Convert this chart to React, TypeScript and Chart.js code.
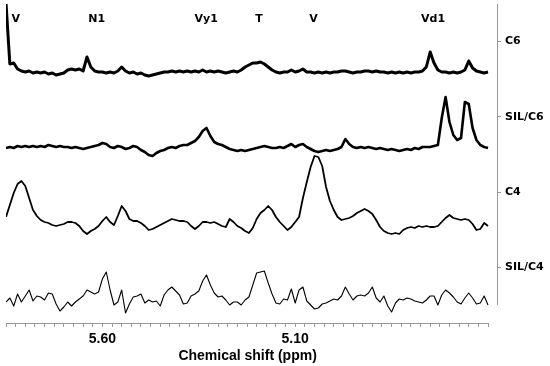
import React, { useEffect, useRef } from 'react';
import { Chart, registerables } from 'chart.js';

Chart.register(...registerables);

// Chemical shift grid (ppm), left to right
const shifts = [
  5.85, 5.84, 5.83, 5.82, 5.81, 5.80, 5.79, 5.78, 5.77, 5.76,
  5.75, 5.74, 5.73, 5.72, 5.71, 5.70, 5.69, 5.68, 5.67, 5.66,
  5.65, 5.64, 5.63, 5.62, 5.61, 5.60, 5.59, 5.58, 5.57, 5.56,
  5.55, 5.54, 5.53, 5.52, 5.51, 5.50, 5.49, 5.48, 5.47, 5.46,
  5.45, 5.44, 5.43, 5.42, 5.41, 5.40, 5.39, 5.38, 5.37, 5.36,
  5.35, 5.34, 5.33, 5.32, 5.31, 5.30, 5.29, 5.28, 5.27, 5.26,
  5.25, 5.24, 5.23, 5.22, 5.21, 5.20, 5.19, 5.18, 5.17, 5.16,
  5.15, 5.14, 5.13, 5.12, 5.11, 5.10, 5.09, 5.08, 5.07, 5.06,
  5.05, 5.04, 5.03, 5.02, 5.01, 5.00, 4.99, 4.98, 4.97, 4.96,
  4.95, 4.94, 4.93, 4.92, 4.91, 4.90, 4.89, 4.88, 4.87, 4.86,
  4.85, 4.84, 4.83, 4.82, 4.81, 4.80, 4.79, 4.78, 4.77, 4.76,
  4.75, 4.74, 4.73, 4.72, 4.71, 4.70, 4.69, 4.68, 4.67, 4.66,
  4.65, 4.64, 4.63, 4.62, 4.61, 4.60,
];

const sampleLabels = ['C6', 'SIL/C6', 'C4', 'SIL/C4'];
const traceOffsets = [232, 157, 80, 5];
const labelPositions = [263.4, 188.1, 112.9, 37.6];

const c6 = [
  70, 9, 10, 4, 2, 1, 2, 0, 1, 0,
  1, -1, 0, -2, -1, 0, 3, 4, 3, 4,
  2, 16, 6, 2, 1, 1, 0, 1, 0, 2,
  6, 2, 0, 1, -1, 0, -2, -3, -2, -1,
  0, 1, 1, 2, 1, 2, 1, 2, 1, 2,
  1, 3, 1, 2, 1, 2, 1, 0, 1, 2,
  1, 3, 6, 8, 10, 10, 11, 9, 6, 3,
  1, 0, 1, 1, 3, 1, 2, 4, 1, 1,
  0, 1, 0, 1, 0, 1, 1, 2, 2, 1,
  0, 1, 1, 2, 2, 1, 2, 1, 1, 0,
  1, 0, 1, 0, 1, 0, 1, 1, 2, 6,
  21, 10, 3, 1, 1, 0, 1, 0, 1, 3,
  12, 5, 2, 1, 0, 1,
];

const silC6 = [
  0, 1, 0, 2, 1, 2, 1, 2, 1, 2,
  1, 3, 2, 1, 2, 1, 1, 0, 1, 0,
  -1, 0, 1, 2, 3, 5, 4, 1, 0, 2,
  1, -1, 0, 2, 1, -2, -4, -7, -8, -5,
  -3, -2, 0, 1, 0, 2, 3, 3, 5, 7,
  11, 17, 20, 12, 6, 4, 3, 1, -1, -2,
  -3, -2, -3, -2, -1, 0, 1, 2, 1, 0,
  0, 1, 0, 2, 4, 1, 3, 4, 1, -1,
  -3, -4, -3, -2, -3, -2, -1, 1, 9, 4,
  1, 0, 1, 0, 1, 0, -1, 0, -1, -2,
  -1, -2, -3, -2, -1, -2, 0, -1, 1, 1,
  1, 2, 3, 30, 51, 26, 13, 8, 10, 46,
  44, 20, 8, 3, 1, 0,
];

const c4 = [
  8, 20, 32, 41, 44, 39, 27, 15, 9, 5,
  3, 2, 0, -1, 0, 1, 3, 3, 2, -1,
  -6, -9, -6, -4, -1, 4, 8, 3, 0, 9,
  19, 14, 6, 4, 4, 2, -1, -5, -4, -2,
  0, 2, 4, 6, 5, 4, 4, 3, -1, -4,
  -1, 3, 3, 2, 3, 1, -1, -2, 6, 3,
  -1, -3, -6, -8, -3, 6, 12, 15, 19, 15,
  8, 3, -1, -5, -2, 3, 8, 27, 43, 58,
  69, 68, 59, 38, 24, 15, 8, 5, 6, 7,
  9, 12, 14, 16, 14, 11, 5, -2, -6, -8,
  -9, -8, -9, -5, -3, -2, -3, -1, -2, -1,
  -2, -2, -1, 3, 7, 10, 7, 6, 5, 6,
  5, 1, -5, -4, 2, -1,
];

const silC4 = [
  -2, 2, -6, 6, -2, 4, 10, -1, 4, 3,
  0, 7, 6, -4, -11, -7, -2, -6, -2, 1,
  4, 10, 8, 6, 8, 21, 28, 10, -5, -2,
  10, -13, -4, 3, 4, 6, -3, 0, -2, -1,
  -6, 5, 10, 13, 9, 5, -4, -3, 4, 6,
  9, 19, 25, 15, 7, 3, 4, 0, -5, -2,
  -2, -5, 0, 3, 15, 27, 28, 29, 17, 6,
  -3, -4, 1, 0, 11, -3, 10, 13, -1, -5,
  -9, -8, -4, -3, -1, 1, 0, 4, 13, 6,
  0, 4, 5, 4, 7, 13, 2, -2, 4, -6,
  -12, -3, 1, 0, 2, 1, -1, -2, -3, 0,
  4, 4, -5, 5, 10, 7, 3, -2, -4, 2,
  7, 2, -4, -3, 4, -5,
];

const traces = [c6, silC6, c4, silC4];
const traceWidths = [3, 2.6, 1.8, 1.1];

const peakNames = ['V', 'N1', 'Vy1', 'T', 'V', 'Vd1'];
const peakShifts = [5.825, 5.615, 5.331, 5.194, 5.0525, 4.7426];
const peakLabelLevel = 285.5;

const majorTicks = [5.6, 5.1];
const axisStart = 5.85;
const axisEnd = 4.6;
const minorStep = 0.025;
const xTitle = 'Chemical shift (ppm)  ';

const axisColor = '#9a9a9a';

const decorPlugin = {
  id: 'decor',
  afterDraw(chart: any) {
    const { ctx, chartArea, scales } = chart;
    const x = scales.x;
    const y = scales.y;
    ctx.save();
    ctx.strokeStyle = axisColor;
    ctx.lineWidth = 1;
    // x axis line (only across the spectral range)
    const yb = Math.round(chartArea.bottom) + 0.5;
    ctx.beginPath();
    ctx.moveTo(x.getPixelForValue(axisStart), yb);
    ctx.lineTo(x.getPixelForValue(axisEnd) + 0.5, yb);
    ctx.stroke();
    // right-hand sample axis
    const xr = Math.round(chartArea.right) + 0.5;
    ctx.beginPath();
    ctx.moveTo(xr, y.getPixelForValue(0));
    ctx.lineTo(xr, y.getPixelForValue(301));
    ctx.stroke();
    // peak assignments
    ctx.fillStyle = '#000';
    ctx.font = 'bold 11px "DejaVu Sans"';
    ctx.textAlign = 'center';
    ctx.textBaseline = 'middle';
    peakNames.forEach((name, i) => {
      ctx.fillText(name, x.getPixelForValue(peakShifts[i]), y.getPixelForValue(peakLabelLevel));
    });
    ctx.restore();
  },
};

export default function App() {
  const canvasRef = useRef<HTMLCanvasElement | null>(null);

  useEffect(() => {
    const canvas = canvasRef.current;
    if (!canvas) return;
    const datasets = traces.map((vals, t) => ({
      label: sampleLabels[t],
      data: shifts.map((s, i) => ({ x: s, y: traceOffsets[t] + vals[i] })),
      borderColor: '#000',
      backgroundColor: '#000',
      borderWidth: traceWidths[t],
      borderJoinStyle: 'round' as const,
      pointRadius: 0,
      tension: 0,
      fill: false,
    }));

    const chart = new Chart(canvas, {
      type: 'line',
      data: { datasets },
      plugins: [decorPlugin],
      options: {
        animation: false,
        responsive: false,
        devicePixelRatio: 1,
        layout: { padding: { left: 6, top: 4, right: 0, bottom: 0 } },
        plugins: {
          legend: { display: false },
          tooltip: { enabled: false },
        },
        scales: {
          x: {
            type: 'linear',
            reverse: true,
            min: 4.5767,
            max: axisStart,
            border: { display: false },
            grid: {
              display: true,
              drawOnChartArea: false,
              drawTicks: true,
              tickLength: 4,
              color: axisColor,
            },
            afterBuildTicks: (scale: any) => {
              const ticks = [];
              for (let v = axisStart; v >= axisEnd - 1e-9; v -= minorStep) {
                ticks.push({ value: v });
              }
              scale.ticks = ticks;
            },
            afterFit: (scale: any) => {
              scale.height = 43;
              scale.paddingLeft = 0;
              scale.paddingRight = 0;
            },
            ticks: {
              autoSkip: false,
              maxRotation: 0,
              padding: 4,
              color: '#000',
              font: { family: '"Liberation Sans", Arial, sans-serif', size: 14, weight: 'bold' },
              callback: (value: any) => {
                const m = majorTicks.find((t) => Math.abs(t - Number(value)) < 1e-6);
                return m === undefined ? '' : m.toFixed(2);
              },
            },
            title: {
              display: true,
              text: xTitle,
              color: '#000',
              padding: { top: 0, bottom: 1.3 },
              font: { family: '"Liberation Sans", Arial, sans-serif', size: 14, weight: 'bold' },
            },
          },
          y: {
            type: 'linear',
            position: 'right',
            min: -18,
            max: 301,
            border: { display: false },
            grid: {
              display: true,
              drawOnChartArea: false,
              drawTicks: true,
              tickLength: 4,
              color: axisColor,
            },
            afterBuildTicks: (scale: any) => {
              scale.ticks = labelPositions
                .map((v, i) => ({ value: v, label: sampleLabels[i] }))
                .sort((a, b) => a.value - b.value);
            },
            afterFit: (scale: any) => {
              scale.width = 53;
              scale.paddingTop = 0;
              scale.paddingBottom = 0;
            },
            ticks: {
              autoSkip: false,
              padding: 4,
              color: '#000',
              font: { family: '"DejaVu Sans", Verdana, sans-serif', size: 11, weight: 'bold' },
              callback: (value: any) => {
                const idx = labelPositions.findIndex((p) => Math.abs(p - Number(value)) < 1e-6);
                return idx >= 0 ? sampleLabels[idx] : '';
              },
            },
          },
        },
      },
    });

    return () => {
      chart.destroy();
    };
  }, []);

  return (
    <div style={{ position: 'absolute', left: 0, top: 0, width: 550, height: 366, background: '#fff' }}>
      <canvas ref={canvasRef} width={550} height={366} style={{ display: 'block' }} />
    </div>
  );
}
